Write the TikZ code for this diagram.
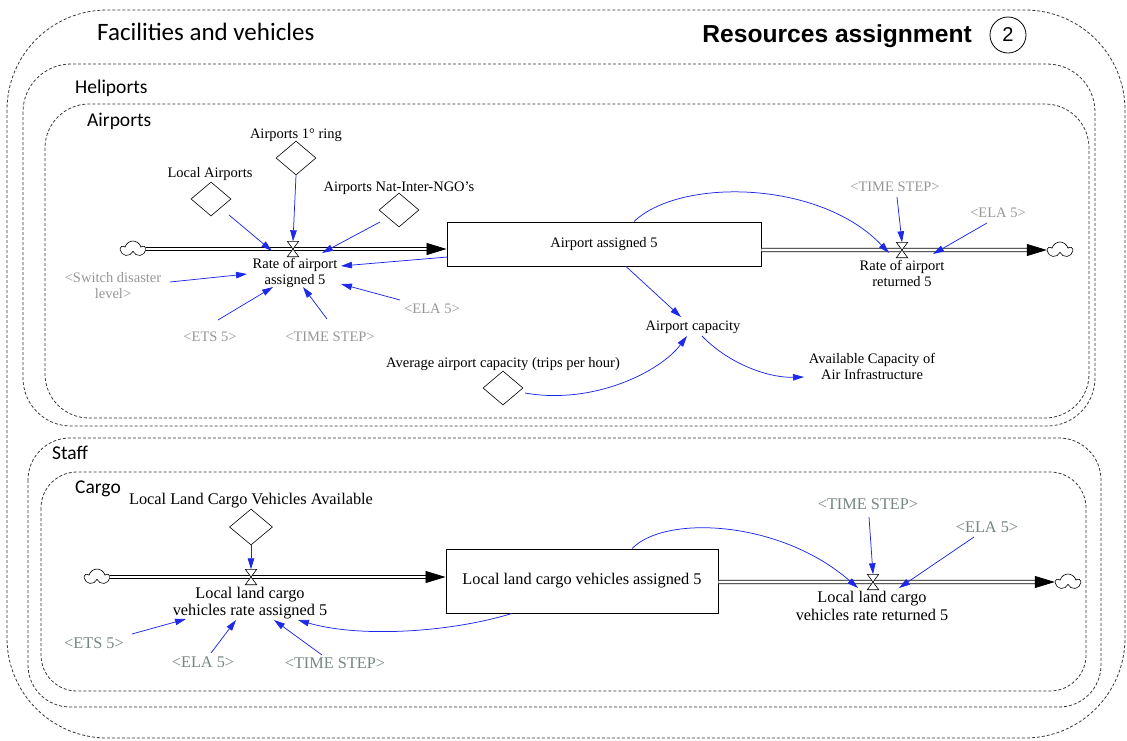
\documentclass[tikz,border=0pt]{standalone}
\usepackage{fontspec}
\setmainfont{Liberation Serif}
\newfontfamily\calibfont{Carlito}
\newfontfamily\arialfont{Liberation Sans}
\usetikzlibrary{shapes.geometric,shapes.symbols,arrows.meta}

\definecolor{zonegray}{RGB}{55,55,55}
\definecolor{linkblue}{RGB}{30,40,232}
\definecolor{shadowtop}{RGB}{150,150,150}
\definecolor{shadowbot}{RGB}{118,134,128}

\begin{document}
\begin{tikzpicture}[x=1pt,y=-1pt,
  zone/.style={draw=zonegray, line width=0.8pt, dash pattern=on 3pt off 2pt},
  sect/.style={font={\calibfont\fontsize{19.5}{22}\selectfont}, anchor=base west, inner sep=0pt},
  txt/.style={font={\fontsize{14.5}{16}\selectfont}, align=center, inner sep=1pt},
  txtb/.style={font={\fontsize{16.3}{17.5}\selectfont}, align=center, inner sep=1pt},
  shd/.style={txt, text=shadowtop},
  shdb/.style={txtb, text=shadowbot},
  aux/.style={draw, diamond, minimum width=40pt, minimum height=34pt, inner sep=0pt, fill=white, line width=0.6pt},
  stock/.style={draw, rectangle, fill=white, line width=0.9pt, inner sep=0pt},
  valve/.style={minimum width=11pt, minimum height=15pt, inner sep=0pt},
  sky/.style={draw, cloud, cloud puffs=5, aspect=1.5, minimum width=24pt, minimum height=16pt, inner sep=0pt, line width=0.6pt},
  pipe/.style={double, double distance=2.6pt, line width=0.75pt, shorten >=19pt},
  pipehead/.style={-{Triangle[length=20pt,width=12pt]}, line width=0.75pt},
  link/.style={draw=linkblue, line width=0.75pt, -{Triangle[length=11pt,width=6.5pt]}},
]
\useasboundingbox (0,0) rectangle (1127,740);

% ---------- dashed grouping zones ----------
\draw[zone, rounded corners=100pt] (7,10) rectangle (1125,738);
\draw[zone, rounded corners=48pt] (23,64) rectangle (1095,426);
\draw[zone, rounded corners=44pt] (45,104) rectangle (1089,418);
\draw[zone, rounded corners=42pt] (28,438) rectangle (1101,707);
\draw[zone, rounded corners=36pt] (41,472) rectangle (1086,691);

% ---------- headings ----------
\node[sect, font={\calibfont\fontsize{25}{27}\selectfont}] (hdfac) at (97,40) {Facilities and vehicles};
\node[anchor=base east, inner sep=0pt, font={\arialfont\bfseries\fontsize{24.6}{27}\selectfont}] (hdres) at (972,42) {Resources assignment};
\node[draw, circle, minimum size=36pt, inner sep=0pt, line width=0.8pt, font={\arialfont\fontsize{20}{22}\selectfont}] (pageno) at (1008,35) {2};
\node[sect] (hdheli) at (75,93) {Heliports};
\node[sect] (hdair) at (87,126) {Airports};
\node[sect] (hdstaff) at (52,459) {Staff};
\node[sect] (hdcargo) at (75,493) {Cargo};

% ---------- airports: stock and flows ----------
\node[stock, minimum width=314pt, minimum height=44pt, txt] (stockA) at (604,244) {Airport assigned 5};
\node[sky] (cloudL) at (133,249) {};
\node[sky] (cloudR) at (1060,250) {};
\node[valve] (vA) at (293,249) {};
\node[valve] (vB) at (902,250) {};

\coordinate (inA) at (cloudL.east -| stockA.west);
\draw[pipe] (cloudL.east) -- (inA);
\draw[pipehead] ([xshift=-20pt]inA) -- (inA);
\coordinate (outA) at (vB -| stockA.east);
\draw[pipe] (outA) -- (cloudR.west);
\draw[pipehead] ([xshift=-20pt]cloudR.west) -- (cloudR.west);

\foreach \v in {vA,vB}
  \draw[fill=white, line width=0.6pt] (\v.north west) -- (\v.north east) -- (\v.south west) -- (\v.south east) -- cycle;

\node[txt] (rateA) at (295,273) {Rate of airport\\assigned 5};
\node[txt] (rateB) at (902,273) {Rate of airport\\returned 5};

% ---------- airports: auxiliaries ----------
\node[txt] (ringT) at (296,135) {Airports 1° ring};
\node[aux] (ringD) at (296,158) {};
\node[txt] (localT) at (210,174) {Local Airports};
\node[aux] (localD) at (211,199) {};
\node[txt] (natT) at (399,188) {Airports Nat-Inter-NGO's};
\node[aux] (natD) at (399,210) {};
\node[shd] (switchT) at (113,286) {<Switch disaster\\level>};
\node[shd] (etsA) at (210,337) {<ETS 5>};
\node[shd] (tsA) at (330,337) {<TIME STEP>};
\node[shd] (elaA) at (432,309) {<ELA 5>};
\node[shd] (tsB) at (895,187) {<TIME STEP>};
\node[shd] (elaB) at (998,213) {<ELA 5>};
\node[txt] (cap) at (693,327) {Airport capacity};
\node[txt] (avgT) at (503,364) {Average airport capacity (trips per hour)};
\node[aux] (avgD) at (503,388) {};
\node[txt] (avail) at (872,366) {Available Capacity of\\Air Infrastructure};

% ---------- airports: links ----------
\draw[link] ([shift={(18,16)}]localD.center) -- ([shift={(-23,-22)}]rateA.center);
\draw[link] (ringD.south) -- (vA.north);
\draw[link] ([shift={(-19,12)}]natD.center) -- ([shift={(27,-20)}]rateA.center);
\draw[link] ([shift={(1,13)}]stockA.west) -- ([shift={(46,-7)}]rateA.center);
\draw[link] ([shift={(57,-4)}]switchT.center) -- ([shift={(-48,1)}]rateA.center);
\draw[link] ([shift={(8,-17)}]etsA.center) -- ([shift={(-22,14)}]rateA.center);
\draw[link] ([shift={(-3,-18)}]tsA.center) -- ([shift={(8,14)}]rateA.center);
\draw[link] ([shift={(-32,-9)}]elaA.center) -- ([shift={(46,11)}]rateA.center);

\draw[link] ([shift={(2,10)}]tsB.center) -- (vB.north);
\draw[link] ([shift={(-11,10)}]elaB.center) -- ([shift={(31,-19)}]rateB.center);
\draw[link] ([shift={(30,0)}]stockA.north) .. controls +(46,-44) and +(-69,-73) .. ([shift={(-13,-20)}]rateB.center);

\draw[link] ([shift={(22,0)}]stockA.south) -- ([shift={(-12,-10)}]cap.center);
\draw[link] ([shift={(22,5)}]avgD.center) .. controls +(68,12) and +(-27,36) .. ([shift={(-6,9)}]cap.center);
\draw[link] ([shift={(9,9)}]cap.center) .. controls +(28,29) and +(-34,1) .. ([shift={(-68,11)}]avail.center);

% ---------- cargo: stock and flows ----------
\node[stock, minimum width=272pt, minimum height=64pt, txtb] (stockB) at (582,581) {Local land cargo vehicles assigned 5};
\node[sky] (cloudC) at (97,577) {};
\node[sky] (cloudD) at (1068,582) {};
\node[valve] (vC) at (251,577) {};
\node[valve] (vD) at (873,582) {};

\coordinate (inC) at (cloudC.east -| stockB.west);
\draw[pipe] (cloudC.east) -- (inC);
\draw[pipehead] ([xshift=-20pt]inC) -- (inC);
\coordinate (outD) at (vD -| stockB.east);
\draw[pipe] (outD) -- (cloudD.west);
\draw[pipehead] ([xshift=-20pt]cloudD.west) -- (cloudD.west);

\foreach \v in {vC,vD}
  \draw[fill=white, line width=0.6pt] (\v.north west) -- (\v.north east) -- (\v.south west) -- (\v.south east) -- cycle;

\node[txtb] (rateC) at (250,603) {Local land cargo\\vehicles rate assigned 5};
\node[txtb] (rateD) at (872,606) {Local land cargo\\vehicles rate returned 5};

% ---------- cargo: auxiliaries ----------
\node[txtb] (lcvT) at (251,501) {Local Land Cargo Vehicles Available};
\node[aux, minimum width=43pt, minimum height=36pt] (lcvD) at (251,527) {};
\node[shdb] (etsC) at (94,643) {<ETS 5>};
\node[shdb] (elaC) at (203,662) {<ELA 5>};
\node[shdb] (tsC) at (335,663) {<TIME STEP>};
\node[shdb] (tsD) at (868,504) {<TIME STEP>};
\node[shdb] (elaD) at (987,527) {<ELA 5>};

% ---------- cargo: links ----------
\draw[link] (lcvD.south) -- (vC.north);
\draw[link] ([shift={(38,-9)}]etsC.center) -- ([shift={(-64,16)}]rateC.center);
\draw[link] ([shift={(8,-9)}]elaC.center) -- ([shift={(-14,17)}]rateC.center);
\draw[link] ([shift={(-13,-8)}]tsC.center) -- ([shift={(24,17)}]rateC.center);
\draw[link] ([shift={(-70,0)}]stockB.south) .. controls +(-62,19) and +(62,18) .. ([shift={(48,17)}]rateC.center);

\draw[link] ([shift={(1,13)}]tsD.center) -- (vD.north);
\draw[link] ([shift={(-13,10)}]elaD.center) -- ([shift={(27,-18)}]rateD.center);
\draw[link] ([shift={(50,0)}]stockB.north) .. controls +(33,-34) and +(-78,-68) .. ([shift={(-14,-18)}]rateD.center);

\end{tikzpicture}
\end{document}
